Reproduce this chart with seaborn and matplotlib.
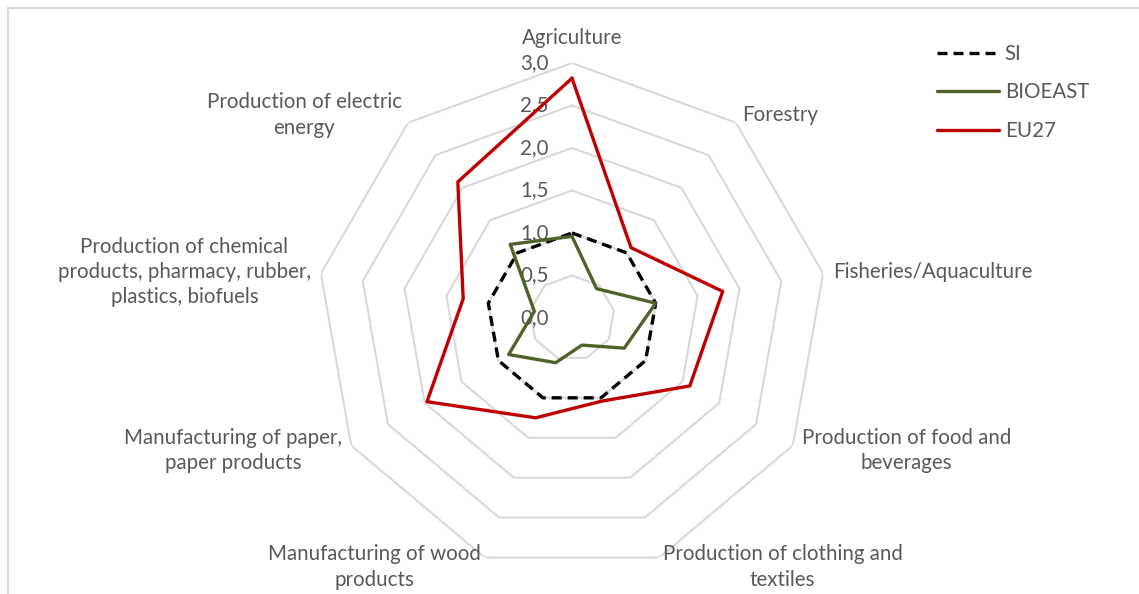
import numpy as np
import pandas as pd
import matplotlib
matplotlib.use("Agg")
import matplotlib.pyplot as plt
from matplotlib.patches import Rectangle
import seaborn as sns

categories = [
    "Agriculture",
    "Forestry",
    "Fisheries/Aquaculture",
    "Production of food and\nbeverages",
    "Production of clothing and\ntextiles",
    "Manufacturing of wood\nproducts",
    "Manufacturing of paper,\npaper products",
    "Production of chemical\nproducts, pharmacy, rubber,\nplastics, biofuels",
    "Production of electric\nenergy",
]
si = [1.00, 1.00, 1.00, 1.00, 1.00, 1.00, 1.00, 1.00, 1.00]
bioeast = [0.96, 0.45, 1.00, 0.71, 0.34, 0.56, 0.86, 0.45, 1.13]
eu27 = [2.82, 1.08, 1.80, 1.60, 1.04, 1.25, 1.97, 1.30, 2.09]
series_names = ["SI", "BIOEAST", "EU27"]
ring_levels = [0.5, 1.0, 1.5, 2.0, 2.5, 3.0]
tick_levels = [0.0, 0.5, 1.0, 1.5, 2.0, 2.5, 3.0]
tick_labels = ["0,0", "0,5", "1,0", "1,5", "2,0", "2,5", "3,0"]

sns.set_style("white")
plt.rcParams["font.family"] = ["Lato", "DejaVu Sans"]

TEXT = "#595959"
GRID = "#D9D9D9"
FS = 14.8

n = len(categories)
theta = np.linspace(0, 2 * np.pi, n, endpoint=False)
theta_closed = np.append(theta, 2 * np.pi)

rows = []
for name, vals in zip(series_names, [si, bioeast, eu27]):
    for t, v in zip(theta_closed, list(vals) + [vals[0]]):
        rows.append({"theta": t, "value": v, "series": name})
df = pd.DataFrame(rows)

fig = plt.figure(figsize=(11.39, 5.94), dpi=100)
fig.patches.append(Rectangle((8 / 1139, -0.1), 1.2, 1.1 - 8 / 594,
                             transform=fig.transFigure, fill=False,
                             edgecolor=GRID, linewidth=1.6, zorder=0))

ax = fig.add_axes([0.2783, 0.0354, 0.4478, 0.8586], projection="polar")
ax.set_theta_zero_location("N")
ax.set_theta_direction(-1)
ax.set_ylim(0, 3.0)
ax.grid(False)
ax.spines["polar"].set_visible(False)
ax.set_xticks([])
ax.set_yticks([])
ax.patch.set_alpha(0)

# polygonal grid rings
for lv in ring_levels:
    ax.plot(theta_closed, [lv] * len(theta_closed), color=GRID, lw=1.5, zorder=1)

# radial value labels along the top axis
for lv, lab in zip(tick_levels, tick_labels):
    ax.annotate(lab, xy=(0, lv), xytext=(-17, 0), textcoords="offset points",
                ha="right", va="center", fontsize=FS, color=TEXT, zorder=2)

styles = {
    "SI": dict(color="black", linestyle=(0, (3.0, 1.8))),
    "BIOEAST": dict(color="#4F6228", linestyle="-"),
    "EU27": dict(color="#C00000", linestyle="-"),
}
for z, name in enumerate(series_names):
    sub = df[df["series"] == name]
    sns.lineplot(data=sub, x="theta", y="value", ax=ax, sort=False,
                 estimator=None, lw=2.4, label=name, zorder=3 + z,
                 **styles[name])
ax.set_xlabel("")
ax.set_ylabel("")

# category labels just outside the outer ring
pad = 7.2
for t, lab in zip(theta, categories):
    s, c = np.sin(t), np.cos(t)
    ha = "left" if s > 0.1 else ("right" if s < -0.1 else "center")
    va = "bottom" if c > 0.95 else "center"
    p = 10.5 if va == "bottom" else pad
    ax.annotate(lab, xy=(t, 3.0), xytext=(p * s, p * c),
                textcoords="offset points", ha=ha, va=va,
                multialignment="center", fontsize=FS, color=TEXT,
                linespacing=1.32, annotation_clip=False)

leg = ax.legend(loc="upper left", bbox_to_anchor=(937 / 1139, 1 - 44 / 594),
                bbox_transform=fig.transFigure, frameon=False, fontsize=FS,
                handlelength=3.0, handletextpad=0.3, labelspacing=0.9,
                borderaxespad=0, borderpad=0)
for txt in leg.get_texts():
    txt.set_color(TEXT)

fig.savefig("out.png", dpi=100, facecolor="white")
